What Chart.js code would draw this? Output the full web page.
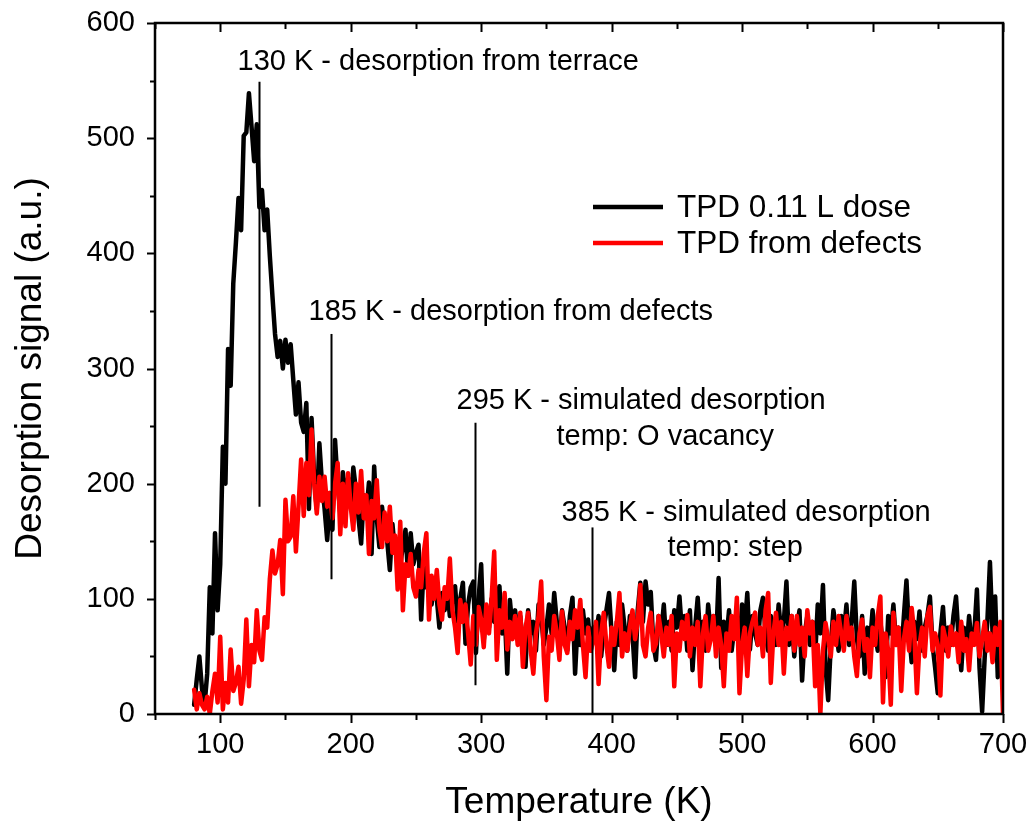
<!DOCTYPE html>
<html>
<head>
<meta charset="utf-8">
<title>TPD</title>
<script src="https://cdn.jsdelivr.net/npm/chart.js@4.4.0/dist/chart.umd.min.js"></script>
<style>
  html, body { margin: 0; padding: 0; background: #fff; }
  #grafico { display: block; }
</style>
</head>
<body>
<canvas id="grafico" width="1036" height="829"></canvas>
<script>
// temperatura inicial e passo da rampa (K)
const tStart = 80;
const tStep = 2;

// sinal TPD com dose de 0.11 L (uma linha = 20 K)
const doseSignal = [
    8, 30, 50, 22, 8, 35, 110, 70, 157, 90,          // 80
    130, 232, 200, 317, 285, 374, 409, 448, 420, 502, // 100
    505, 539, 510, 480, 512, 440, 455, 420, 438, 398, // 120
    363, 330, 310, 324, 300, 325, 305, 321, 290, 260, // 140
    288, 253, 245, 270, 178, 257, 205, 178, 235, 200, // 160
    178, 151, 185, 160, 238, 200, 175, 210, 185, 205, // 180
    180, 214, 195, 170, 148, 190, 175, 201, 139, 215, // 200
    170, 145, 180, 160, 150, 125, 165, 140, 150, 130, // 220
    145, 160, 120, 157, 130, 140, 147, 82, 130, 110,  // 240
    119, 95, 115, 100, 75, 105, 90, 110, 85, 100,     // 260
    111, 80, 100, 114, 61, 95, 110, 115, 53, 100,     // 280
    130, 64, 90, 75, 100, 80, 95, 111, 70, 90,        // 300
    35, 99, 75, 90, 70, 85, 60, 41, 90, 70,           // 320
    80, 55, 95, 85, 60, 75, 95, 70, 105, 80,          // 340
    60, 90, 75, 55, 85, 101, 35, 80, 60, 90,          // 360
    70, 82, 55, 75, 65, 85, 50, 75, 90, 105,          // 380
    70, 38, 80, 60, 95, 75, 55, 85, 70, 32,           // 400
    90, 114, 80, 115, 95, 106, 60, 47, 85, 70,        // 420
    95, 60, 80, 55, 90, 75, 102, 70, 85, 55,          // 440
    90, 38, 75, 101, 65, 80, 55, 95, 70, 85,          // 460
    60, 118, 40, 80, 65, 90, 55, 75, 85, 60,          // 480
    95, 75, 105, 56, 85, 70, 60, 90, 101, 70,         // 500
    55, 85, 75, 60, 95, 70, 80, 115, 60, 85,          // 520
    50, 75, 90, 29, 70, 85, 60, 80, 50, 95,           // 540
    70, 112, 40, 12, 60, 90, 75, 55, 85, 70,          // 560
    95, 60, 80, 115, 65, 50, 85, 35, 75, 60,          // 580
    90, 70, 55, 80, 60, 32, 85, 70, 95, 60,           // 600
    75, 50, 85, 116, 70, 45, 80, 65, 89, 55,          // 620
    75, 85, 102, 60, 40, 18, 70, 93, 55, 75,          // 640
    60, 85, 102, 65, 38, 75, 55, 85, 60, 70,          // 660
    108, 40, 2, 50, 80, 132, 70, 102, 32, 70,         // 680
    60                                                // 700
];

// sinal simulado a partir dos defeitos
const defectSignal = [
    21, 4, 18, 8, 4, 15, 0, 20, 35, 10,               // 80
    67, 4, 27, 10, 56, 20, 27, 41, 9, 30,             // 100
    82, 24, 60, 45, 90, 55, 47, 84, 75, 117,          // 120
    142, 122, 130, 151, 104, 186, 150, 154, 189, 141, // 140
    180, 221, 172, 218, 190, 247, 200, 174, 206, 185, // 160
    206, 180, 192, 170, 200, 218, 156, 200, 163, 209, // 180
    180, 160, 200, 175, 211, 170, 190, 139, 185, 170, // 200
    203, 160, 145, 175, 150, 180, 140, 155, 108, 167, // 220
    90, 130, 120, 139, 110, 102, 125, 110, 140, 157,  // 240
    82, 120, 100, 125, 95, 82, 110, 100, 135, 90,     // 260
    75, 53, 99, 80, 95, 70, 43, 85, 60, 93,           // 280
    82, 58, 95, 70, 100, 141, 47, 90, 75, 105,        // 300
    56, 80, 65, 85, 60, 88, 41, 75, 88, 55,           // 320
    35, 70, 85, 115, 50, 12, 67, 55, 85, 70,          // 340
    47, 89, 60, 53, 80, 65, 90, 75, 99, 60,           // 360
    32, 75, 55, 64, 80, 26, 70, 88, 60, 41,           // 380
    75, 60, 80, 105, 50, 70, 55, 76, 90, 65,          // 400
    80, 112, 60, 50, 75, 88, 55, 61, 85, 70,          // 420
    50, 75, 60, 85, 24, 70, 55, 80, 65, 86,           // 440
    50, 75, 60, 80, 24, 70, 85, 55, 65, 85,           // 460
    50, 75, 60, 24, 70, 55, 85, 65, 101, 18,          // 480
    60, 75, 33, 70, 80, 88, 60, 75, 50, 90,           // 500
    105, 27, 70, 88, 60, 80, 35, 75, 65, 85,          // 520
    55, 85, 60, 75, 50, 90, 70, 80, 24, 60,           // 540
    0, 55, 79, 65, 50, 80, 60, 85, 70, 55,            // 560
    85, 65, 75, 50, 33, 70, 82, 55, 65, 32,           // 580
    75, 60, 85, 102, 10, 70, 55, 8, 88, 60,           // 600
    75, 20, 65, 80, 55, 92, 70, 18, 60, 75,           // 620
    50, 85, 93, 55, 70, 60, 16, 75, 65, 50,           // 640
    76, 60, 70, 45, 80, 55, 65, 38, 70, 60,           // 660
    79, 50, 65, 80, 55, 70, 45, 75, 60, 80,           // 680
    0                                                 // 700
];

const seriesNames = ['TPD 0.11 L dose', 'TPD from defects'];
const xTickLabels = [100, 200, 300, 400, 500, 600, 700];
const yTickLabels = [0, 100, 200, 300, 400, 500, 600];

// marcadores verticais: temperatura, base e topo da linha
const markerTemps = [130, 185, 295, 385];
const markerLow = [180, 117, 25, 0];
const markerHigh = [549, 330, 253, 162];
const markerTexts = [
    ['130 K - desorption from terrace'],
    ['185 K - desorption from defects'],
    ['295 K - simulated desorption', 'temp: O vacancy'],
    ['385 K - simulated desorption', 'temp: step']
];
// deslocamento (px) de cada linha de texto em relação ao topo do marcador
const markerTextOffsets = [
    [[-22, -20]],
    [[-23, -22]],
    [[-19, -22], [81, 14]],
    [[-31, -14], [75, 21]]
];

const FONTE = '"Liberation Sans", Arial, sans-serif';
Chart.defaults.font.family = FONTE;
Chart.defaults.color = '#000';

function toPoints(values) {
    return values.map((v, i) => ({ x: tStart + i * tStep, y: v }));
}

// moldura, ticks, marcadores e legenda desenhados por cima do gráfico
const decorPlugin = {
    id: 'decor',
    afterDatasetsDraw(chart) {
        const { ctx, chartArea: a, scales: { x, y } } = chart;
        ctx.save();
        ctx.strokeStyle = '#000';
        ctx.fillStyle = '#000';

        // linhas dos marcadores + textos
        ctx.lineWidth = 2;
        ctx.font = '29px ' + FONTE;
        ctx.textBaseline = 'middle';
        ctx.textAlign = 'left';
        markerTemps.forEach((t, i) => {
            const px = Math.round(x.getPixelForValue(t)) + 0.5;
            const top = y.getPixelForValue(markerHigh[i]);
            ctx.beginPath();
            ctx.moveTo(px, y.getPixelForValue(markerLow[i]));
            ctx.lineTo(px, top);
            ctx.stroke();
            markerTexts[i].forEach((txt, j) => {
                const [dx, dy] = markerTextOffsets[i][j];
                ctx.fillText(txt, px + dx, top + dy);
            });
        });

        // moldura
        ctx.lineWidth = 2.5;
        ctx.strokeRect(a.left, a.top, a.right - a.left, a.bottom - a.top);

        // ticks do eixo x (fora embaixo, dentro em cima)
        ctx.lineWidth = 2;
        for (let t = x.min; t <= x.max; t += 50) {
            const px = Math.round(x.getPixelForValue(t)) + 0.5;
            const major = xTickLabels.includes(t);
            ctx.beginPath();
            ctx.moveTo(px, a.bottom);
            ctx.lineTo(px, a.bottom + (major ? 9 : 6));
            ctx.moveTo(px, a.top);
            ctx.lineTo(px, a.top + (major ? 9 : 6));
            ctx.stroke();
        }
        // ticks do eixo y (fora, à esquerda)
        for (let v = y.min; v <= y.max; v += 50) {
            const py = Math.round(y.getPixelForValue(v)) + 0.5;
            const major = yTickLabels.includes(v);
            ctx.beginPath();
            ctx.moveTo(a.left, py);
            ctx.lineTo(a.left - (major ? 8 : 5), py);
            ctx.stroke();
        }

        // legenda
        ctx.font = '31.5px ' + FONTE;
        chart.data.datasets.forEach((ds, i) => {
            const ly = 207 + i * 36;
            ctx.strokeStyle = ds.borderColor;
            ctx.lineWidth = 4.5;
            ctx.beginPath();
            ctx.moveTo(593, ly);
            ctx.lineTo(663, ly);
            ctx.stroke();
            ctx.fillText(ds.label, 677, ly + 1);
        });
        ctx.restore();
    }
};

// sem folga extra por causa dos rótulos das pontas
function semFolga(s) {
    s.paddingTop = 0;
    s.paddingBottom = 0;
    s.paddingLeft = 0;
    s.paddingRight = 0;
}

new Chart(document.getElementById('grafico'), {
    type: 'line',
    data: {
        datasets: [
            {
                label: seriesNames[0],
                data: toPoints(doseSignal),
                borderColor: '#000000',
                borderWidth: 4.5,
                order: 2
            },
            {
                label: seriesNames[1],
                data: toPoints(defectSignal),
                borderColor: '#ff0000',
                borderWidth: 4.5,
                order: 1
            }
        ]
    },
    options: {
        responsive: false,
        animation: false,
        devicePixelRatio: 1,
        parsing: false,
        elements: {
            point: { radius: 0 },
            line: { tension: 0, borderJoinStyle: 'round', borderCapStyle: 'round' }
        },
        layout: { padding: { left: 0, top: 23, right: 33, bottom: 0 } },
        plugins: {
            legend: { display: false },
            tooltip: { enabled: false }
        },
        scales: {
            x: {
                type: 'linear',
                min: 50,
                max: 700,
                grid: { display: false, drawTicks: false },
                border: { display: false },
                ticks: {
                    stepSize: 50,
                    autoSkip: false,
                    maxRotation: 0,
                    padding: 14,
                    font: { size: 29 },
                    callback: v => xTickLabels.includes(v) ? String(v) : ''
                },
                title: {
                    display: true,
                    text: 'Temperature (K)',
                    font: { size: 37 },
                    padding: { top: 0, bottom: 4 }
                },
                afterFit: s => { s.height = 115; semFolga(s); }
            },
            y: {
                min: 0,
                max: 600,
                grid: { display: false, drawTicks: false },
                border: { display: false },
                ticks: {
                    stepSize: 50,
                    autoSkip: false,
                    padding: 20,
                    font: { size: 29 },
                    callback: v => yTickLabels.includes(v) ? String(v) : ''
                },
                title: {
                    display: true,
                    text: 'Desorption signal (a.u.)',
                    font: { size: 37 },
                    padding: { top: 9, bottom: 0 }
                },
                afterFit: s => { s.width = 155; semFolga(s); }
            }
        }
    },
    plugins: [decorPlugin]
});
</script>
</body>
</html>
